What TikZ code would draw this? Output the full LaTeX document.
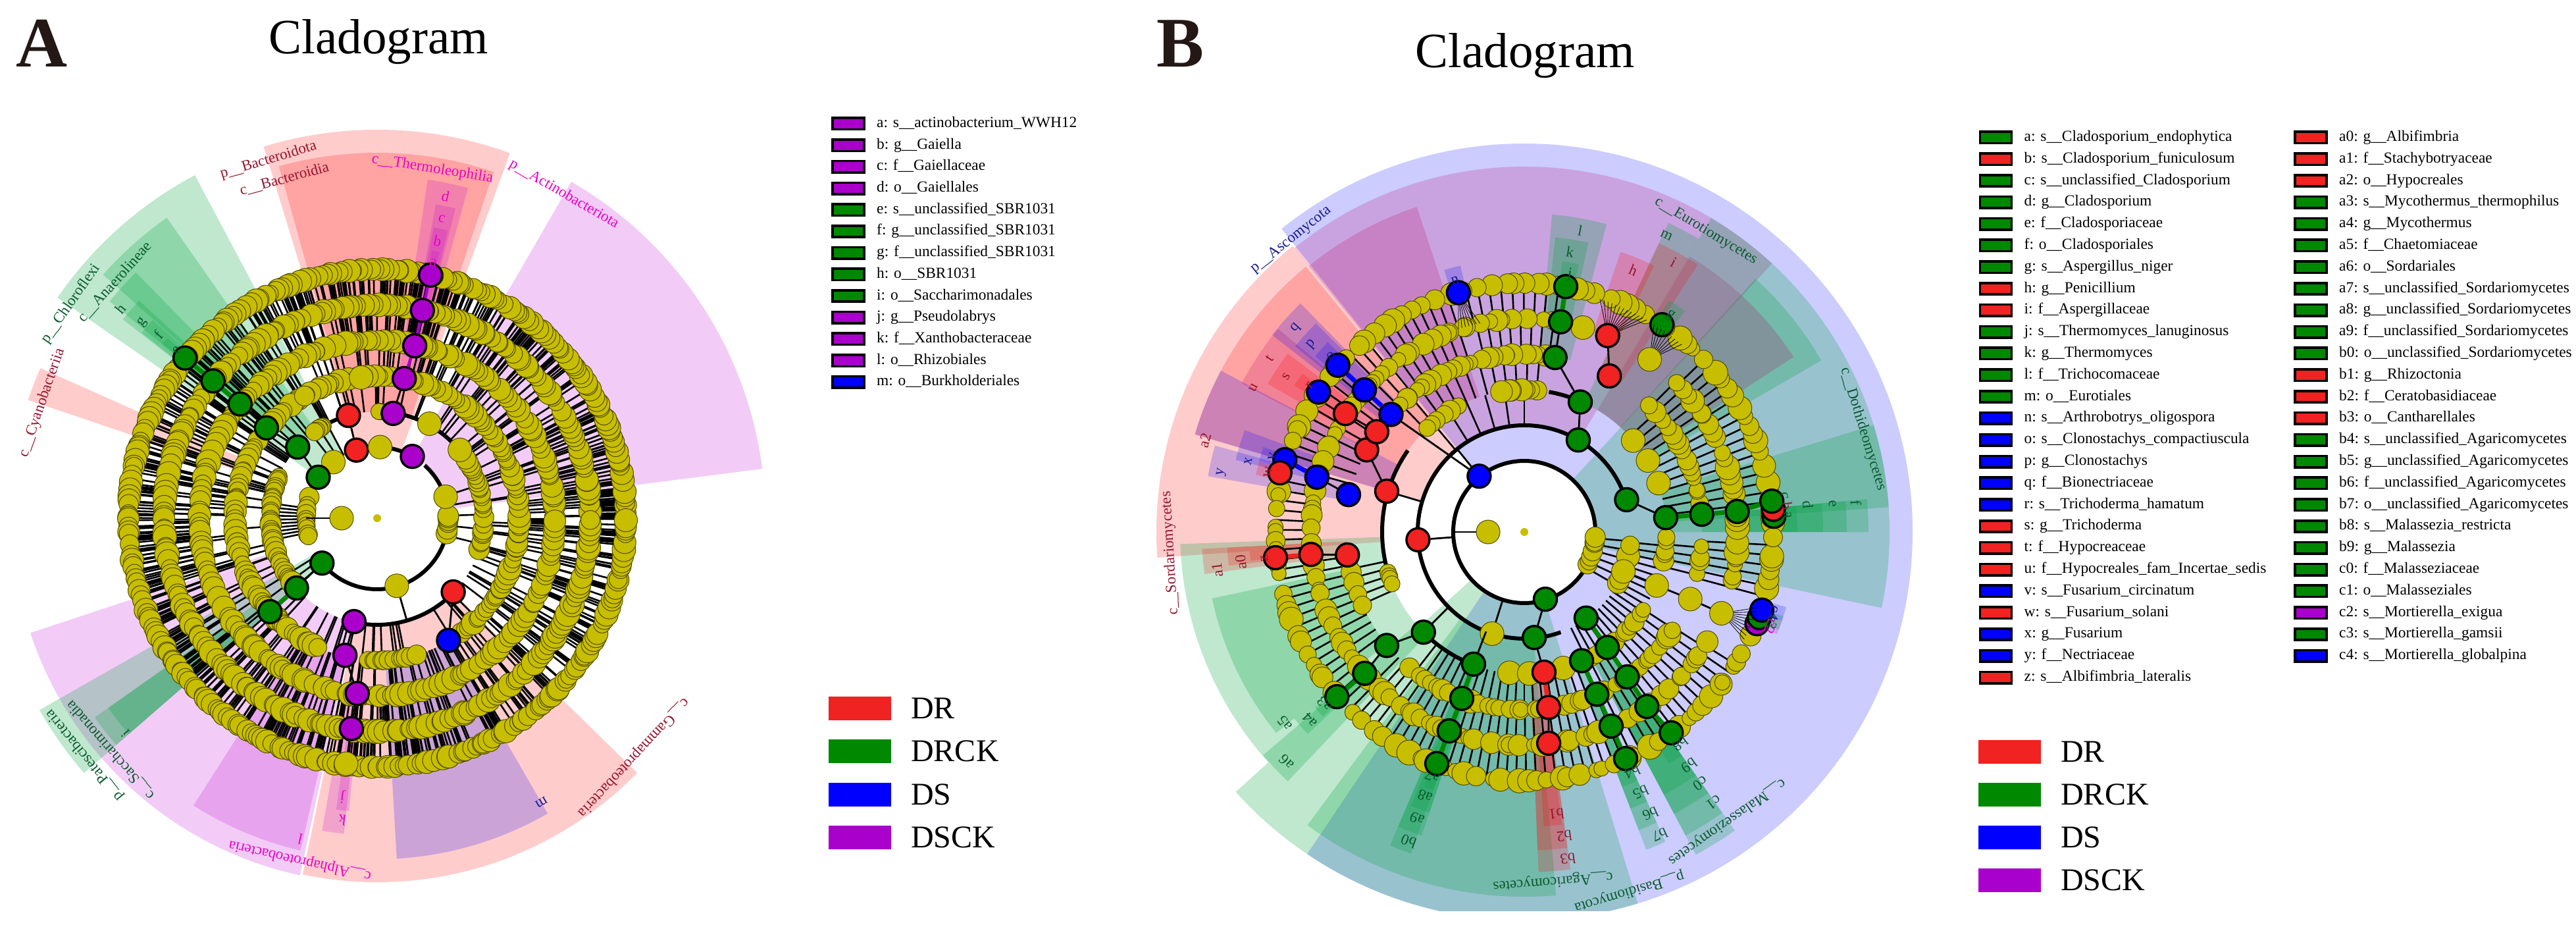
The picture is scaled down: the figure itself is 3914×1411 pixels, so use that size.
\documentclass[tikz,border=0pt]{standalone}
\usepackage{fontspec}
\setmainfont{Liberation Serif}
\usetikzlibrary{
    calc,
    positioning
}
\definecolor{cladered}{RGB}{255,0,0}
\definecolor{cladeblue}{RGB}{0,0,255}
\definecolor{cladeviolet}{RGB}{192,0,208}
\definecolor{cladegreen}{RGB}{0,163,63}
\definecolor{cladepink}{RGB}{192,0,96}
\definecolor{nodered}{RGB}{240,34,34}
\definecolor{nodegreen}{RGB}{0,136,0}
\definecolor{nodeblue}{RGB}{0,0,255}
\definecolor{nodeviolet}{RGB}{170,0,204}
\definecolor{nodeyellow}{RGB}{200,190,0}
\definecolor{dotedge}{RGB}{80,74,0}
\definecolor{txtred}{RGB}{150,20,45}
\definecolor{txtmag}{RGB}{232,0,200}
\definecolor{txtgreen}{RGB}{10,90,45}
\definecolor{txtblue}{RGB}{25,25,145}
\definecolor{inkletter}{RGB}{35,24,21}
\tikzset{
    rd/.style={fill=cladered,fill opacity=.2},
    bl/.style={fill=cladeblue,fill opacity=.2},
    vt/.style={fill=cladeviolet,fill opacity=.2},
    gn/.style={fill=cladegreen,fill opacity=.25},
    pk/.style={fill=cladepink,fill opacity=.2},
    ydot/.style={fill=nodeyellow,draw=dotedge,line width=.5pt},
    spoke/.style={black,line width=1.3pt},
    fanline/.style={black,line width=.4pt},
    thickarc/.style={black,line width=3pt},
    link/.style={black,line width=1.4pt},
    greenlink/.style={nodegreen,line width=3.5pt},
    redlink/.style={nodered,line width=3.5pt},
    bluelink/.style={nodeblue,line width=3.5pt},
    violetlink/.style={nodeviolet,line width=3.5pt},
    marker/.style={circle,draw=black,line width=1.7pt,minimum size=17.5pt,inner sep=0pt},
    drnode/.style={marker,fill=nodered},
    drcknode/.style={marker,fill=nodegreen},
    dsnode/.style={marker,fill=nodeblue},
    dscknode/.style={marker,fill=nodeviolet},
    nsnode/.style={circle,draw=dotedge,line width=.5pt,fill=nodeyellow,minimum size=18pt,inner sep=0pt},
    cladelabel/.style={inner sep=0pt,font=\fontsize{11.5}{13}\selectfont},
    swatch/.style={draw=black,line width=1.8pt,minimum width=24pt,minimum height=8.7pt,inner sep=0pt},
    legtext/.style={inner sep=0pt,text height=8pt,text depth=2.5pt,font=\fontsize{11.7}{13}\selectfont},
    keybox/.style={minimum width=47.5pt,minimum height=18pt,inner sep=0pt},
    keytext/.style={inner sep=0pt,font=\fontsize{24}{26}\selectfont},
    cladotitle/.style={inner sep=0pt,anchor=base west,font=\fontsize{37.5}{40}\selectfont},
    panelletter/.style={inner sep=0pt,anchor=base west,text=inkletter,font=\fontsize{54}{56}\selectfont\bfseries}
}
\newcommand{\clade}[5]{%
    \fill[#1] (#2:#4) arc[start angle=#2,end angle=#3,radius=#4]
        -- (#3:#5) arc[start angle=#3,end angle=#2,radius=#5] -- cycle;}
\newcommand{\ringdots}[6]{%
    \foreach \k in {1,...,#4}{
        \pgfmathsetmacro\ang{#2+(#3-#2)/#4*(\k-0.5+1.2*(rnd-0.5))}
        \pgfmathsetmacro\sz{#5+rnd*(#6-#5)}
        \draw[ydot] (\ang:#1) circle[radius=\sz];
    }}
\newcommand{\spokes}[5]{%
    \pgfmathtruncatemacro\nn{(#4-#3)/#5}
    \foreach \k in {0,...,\nn}{
        \pgfmathsetmacro\ang{#3+#5*\k}
        \draw[spoke] (\ang:#1) -- (\ang:#2);
    }}
\newcommand{\randspokes}[3]{%
    \foreach \k in {1,...,#3}{
        \pgfmathsetmacro\ang{rnd*360}
        \draw[spoke] (\ang:#1) -- (\ang:#2);
    }}
\begin{document}
\begin{tikzpicture}[x=.5pt,y=.5pt]
\useasboundingbox (0,0) rectangle (3914,-1411);
\pgfmathsetseed{11}
\node[panelletter] (letterA) at (24,-102) {A};
\node[cladotitle] (titleA) at (408,-82) {Cladogram};
\node[panelletter] (letterB) at (1757,-102) {B};
\node[cladotitle] (titleB) at (2150,-103) {Cladogram};

% panel A
\begin{scope}[shift={(573,-787)}]
\foreach \st/\a/\b/\ri/\ro in {
    rd/70/107/108/590, rd/71.4/105.6/162/555, vt/74.6/81.5/216/520, vt/75.8/79.4/270/485,
    vt/76.2/79/324/450, vt/76.8/78.4/378/415, vt/7.3/60/108/590,
    gn/118/145.4/108/590, gn/125/138.4/162/557, gn/134.5/141/216/523, gn/137.6/142/270/490,
    gn/138.6/141.8/324/455, gn/139.4/141/378/420, rd/156/161.3/216/560,
    vt/198.3/257.8/162/555, gn/209.6/221/108/590, gn/215.2/221/216/525, gn/215.2/221/270/500,
    vt/237.4/257/216/518, rd/258.2/315.6/162/553, vt/260/264/270/482, vt/262/264.5/324/447,
    bl/273.3/300/216/518}
    {\clade{\st}{\a}{\b}{\ri}{\ro}}
\randspokes{324}{378}{680}
\randspokes{270}{324}{480}
\randspokes{216}{270}{240}
\randspokes{162}{216}{110}
\spokes{108}{162}{172}{192}{2.2}
\spokes{108}{162}{-14}{18}{8}
\spokes{108}{162}{118}{128}{5}
\spokes{108}{162}{212}{222}{4}
\foreach \a/\b in {219/286, 286/345, 27/48, 62/85, 87.6/107}
    {\draw[thickarc] (\a:108) arc[start angle=\a,end angle=\b,radius=108];}
\foreach \a/\b in {257/316, 61/81, 43/55, 107/120}
    {\draw[thickarc] (\a:162) arc[start angle=\a,end angle=\b,radius=162];}
\ringdots{378}{0}{360}{300}{13}{18}
\ringdots{324}{0}{360}{240}{13}{19}
\ringdots{270}{0}{360}{180}{13}{19}
\ringdots{216}{122}{247}{70}{12}{18}
\ringdots{216}{265}{287}{12}{13}{15}
\ringdots{216}{305}{482}{90}{12}{18}
\ringdots{162}{155}{222}{34}{12}{17}
\ringdots{162}{120}{126}{6}{12}{14}
\ringdots{162}{343}{395}{24}{12}{16}
\ringdots{162}{86}{90}{4}{11}{13}
\ringdots{108}{160}{197}{12}{12}{15}
\ringdots{108}{-14}{4}{7}{14}{16}
\foreach \nam/\ang/\rad/\sty in {
    ar1/105.6/162/drnode, ar2/106.9/108/drnode, ar3/315.9/161/drnode,
    ay1/87.6/108/nsnode, ay2/286.2/107/nsnode, ay3/262.8/376/nsnode, ay4/180/54/nsnode,
    ay5/96.5/215/nsnode, ay6/61/164/nsnode, ay7/39.5/163/nsnode, ay8/17.4/109/nsnode, ay9/128/108/nsnode,
    ap1/60.3/108/dscknode, ap2/81.3/161/dscknode, ap3/79/216/dscknode, ap4/77.7/268/dscknode,
    ap5/77.7/323/dscknode, ap6/77.6/378/dscknode, ap7/257.4/161/dscknode, ap8/256.8/214/dscknode,
    ap9/263.5/268/dscknode, ap10/263/322/dscknode,
    ag1/140.2/380/drcknode, ag2/140.1/325/drcknode, ag3/140.2/271/drcknode, ag4/140.8/217/drcknode,
    ag5/138.2/162/drcknode, ag6/145.2/109/drcknode, ag7/219.2/108/drcknode, ag8/220.9/162/drcknode,
    ag9/221.1/216/drcknode, ab1/300.3/215/dsnode}
    {\node[\sty] (\nam) at (\ang:\rad) {};}
\node[circle,fill=nodeyellow,minimum size=6pt,inner sep=0pt] (arootA) at (0,0) {};
\draw[greenlink] (ag1) -- (ag2);
\draw[greenlink] (ag2) -- (ag3);
\draw[greenlink] (ag8) -- (ag9);
\draw[violetlink,line width=2.2pt] (ap6) -- (ap5);
\draw[violetlink,line width=2.2pt] (ap5) -- (ap4);
\draw[violetlink,line width=2.2pt] (ap4) -- (ap3);
\draw[link] (ar1) -- (ar2);
\draw[link] (ap2) -- (ap3);
\draw[link] (ag3) -- (ag4);
\draw[link] (ag4) -- (ag5);
\draw[link] (ag5) -- (ag6);
\draw[link] (ag7) -- (ag8);
\draw[link] (ap7) -- (ap8);
\draw[link] (ap8) -- (ap9);
\draw[link] (ap9) -- (ap10);
\draw[link] (ap10) -- (ay3);
\draw[link] (ar3) -- (ab1);
\draw[link] (ay2) -- (286.2:162);
\draw[link] (ay4) -- (180:108);
\foreach \nam/\ang/\rad/\col/\txt in {
    la1/106.9/568/txtred/p\_\_Bacteroidota, la2/105.3/534/txtred/c\_\_Bacteroidia,
    la3/81/537/txtmag/c\_\_Thermoleophilia, la4/60/568/txtmag/p\_\_Actinobacteriota,
    la5/145/568/txtgreen/p\_\_Chloroflexi, la6/138/536/txtgreen/c\_\_Anaerolineae,
    la7/161/538/txtred/c\_\_Cyanobacteriia, la8/219/572/txtgreen/p\_\_Patescibacteria,
    la9/221/537/txtgreen/c\_\_Saccharimonadia, la10/257.3/533/txtmag/c\_\_Alphaproteobacteria,
    la11/317/533/txtred/c\_\_Gammaproteobacteria,
    ld/78/500/txtmag/d, lc/77.8/465/txtmag/c, lb/77.7/431/txtmag/b, la/77.6/397/txtmag/a,
    lh/140.8/503/txtgreen/h, lg/140.2/464/txtgreen/g, lf/140/434/txtgreen/f, le/140/397/txtgreen/e,
    li/220.6/503/txtgreen/i, ll/256.5/501/txtmag/l, lk/263.4/462/txtmag/k, lj/262.9/426/txtmag/j,
    lm/300/499/txtblue/m}
    {\node[cladelabel,text=\col,rotate=\ang-90] (\nam) at (\ang:\rad) {\txt};}
\end{scope}

\foreach \col/\txt [count=\i from 0] in {
    nodeviolet/a: s\_\_actinobacterium\_WWH12, nodeviolet/b: g\_\_Gaiella, nodeviolet/c: f\_\_Gaiellaceae,
    nodeviolet/d: o\_\_Gaiellales, nodegreen/e: s\_\_unclassified\_SBR1031, nodegreen/f: g\_\_unclassified\_SBR1031,
    nodegreen/g: f\_\_unclassified\_SBR1031, nodegreen/h: o\_\_SBR1031, nodegreen/i: o\_\_Saccharimonadales,
    nodeviolet/j: g\_\_Pseudolabrys, nodeviolet/k: f\_\_Xanthobacteraceae, nodeviolet/l: o\_\_Rhizobiales,
    nodeblue/m: o\_\_Burkholderiales}
{
    \node[swatch,fill=\col] (swA\i) at (1289,-188-32.7*\i) {};
    \node[legtext,right=8.5pt of swA\i] (txA\i) {\txt};
}
\foreach \col/\txt [count=\i from 0] in {nodered/DR, nodegreen/DRCK, nodeblue/DS, nodeviolet/DSCK}
{
    \node[keybox,fill=\col] (keyA\i) at (1306,-1076-65.3*\i) {};
    \node[keytext,right=15pt of keyA\i] (keytxA\i) {\txt};
}

% panel B
\begin{scope}
\clip (1500,0) rectangle (3000,-1383);
\begin{scope}[shift={(2316,-808)}]
\foreach \st/\a/\b/\ri/\ro in {
    bl/-124/128.7/108/590, gn/222/287/108/590, gn/233.5/275/162/554,
    rd/129/163/162/559, rd/163/184/216/559, gn/182/222/216/523,
    rd/129.5/163.5/216/522, bl/152/163.5/216/522, pk/140.5/152.3/270/485,
    pk/108.3/129/216/520, pk/59.2/129/162/555,
    gn/-12/47.3/108/555, gn/3.9/17/216/555, gn/30/47.6/216/521,
    pk/33/59/216/488, pk/47.3/59.2/216/555, gn/47.3/59.2/216/555,
    gn/59.2/65/216/518, rd/57/65/270/484, rd/64/71/324/450,
    gn/75/85/270/484, gn/77.5/84/324/450, gn/78.5/82/378/415,
    bl/134.4/142/270/486, bl/135/141/324/448, bl/136/140/378/415,
    rd/143/150/324/450, rd/144.5/147.5/378/414,
    bl/164.4/170/270/488, bl/160/166/324/452, bl/162/165/378/417, rd/165/168/378/417,
    rd/183/187.5/270/490, rd/183/186.5/324/452, rd/184/186/378/418,
    gn/192/219/270/485, gn/220.5/226.5/216/522, gn/219/223/324/450, gn/220/222.5/378/415,
    gn/246.8/250.6/216/518, gn/246.8/251.3/270/487, gn/247.5/251.3/324/450, gn/248.5/250.5/378/415,
    rd/272.4/277.8/216/517, rd/272.4/277.8/270/484, rd/273.8/277.3/324/448,
    gn/-69/-65.5/216/517, gn/-69/-65.5/270/485, gn/-69/-65.5/324/450, gn/-69/-65.5/378/415,
    gn/-62/-54.8/216/555, gn/-62/-54.8/216/522, gn/-62/-54.8/270/485, gn/-62/-54.8/324/452, gn/-58/-54.8/378/415,
    gn/0/5.5/216/523, gn/0/5.5/270/490, gn/0/5.5/324/454, gn/0/5.5/378/415,
    gn/54/58/378/415, bl/103.5/107/378/416,
    vt/-22/-19/378/414, gn/-21/-18/378/414, bl/-19/-16/378/414}
    {\clade{\st}{\a}{\b}{\ri}{\ro}}
\end{scope}
\end{scope}

\begin{scope}[shift={(2316,-808)}]
\spokes{324}{378}{7}{45}{2.3}
\spokes{324}{378}{-15}{-3}{2.4}
\spokes{324}{378}{82}{104}{2.7}
\spokes{324}{378}{108}{136}{2.4}
\spokes{324}{378}{140}{164}{2.4}
\spokes{324}{378}{168}{248}{2.3}
\spokes{324}{378}{252}{330}{2.3}
\spokes{270}{324}{7}{45}{2.7}
\spokes{270}{324}{-15}{-3}{2.4}
\spokes{270}{324}{82}{105}{3}
\spokes{270}{324}{108}{136}{3}
\spokes{270}{324}{140}{165}{3.5}
\spokes{270}{324}{188}{218}{2.8}
\spokes{270}{324}{225}{248}{2.6}
\spokes{270}{324}{252}{329}{2.6}
\spokes{216}{270}{7}{44}{3.2}
\spokes{216}{270}{-14}{-3}{3}
\spokes{216}{270}{85}{105}{4}
\spokes{216}{270}{110}{135}{4}
\spokes{216}{270}{192}{205}{3}
\spokes{216}{270}{232}{248}{3}
\spokes{216}{270}{252}{328}{3}
\spokes{162}{216}{-28}{-3}{3.2}
\spokes{162}{216}{296}{329}{3}
\spokes{162}{216}{90}{130}{8}
\spokes{108}{162}{-30}{-3}{5}
\draw[thickarc] (0,0) circle[radius=108];
\foreach \a/\b in {59.6/252.4, 252.4/275.4, 17.5/59.6, 275.4/290}
    {\draw[thickarc] (\a:162) arc[start angle=\a,end angle=\b,radius=162];}
\foreach \a/\b in {145/198, 225/249, 66/80}
    {\draw[thickarc] (\a:216) arc[start angle=\a,end angle=\b,radius=216];}
\ringdots{378}{0}{360}{135}{11}{19}
\ringdots{324}{-15}{45}{26}{11}{19}
\ringdots{324}{80}{146}{28}{11}{17}
\ringdots{324}{146}{221}{28}{11}{17}
\ringdots{324}{221}{329}{46}{11}{18}
\ringdots{270}{-15}{-3}{4}{11}{15}
\ringdots{270}{6}{46}{16}{11}{17}
\ringdots{270}{80}{138}{25}{10}{17}
\ringdots{270}{190}{206}{6}{11}{16}
\ringdots{270}{230}{249}{8}{12}{16}
\ringdots{270}{249}{329}{32}{11}{18}
\ringdots{216}{-13}{0}{5}{12}{17}
\ringdots{216}{84}{100}{7}{13}{17}
\ringdots{216}{115}{135}{7}{12}{16}
\ringdots{216}{195}{203}{4}{12}{14}
\ringdots{216}{295}{329}{12}{11}{16}
\ringdots{162}{-31}{-5}{6}{14}{18}
\ringdots{108}{-30}{0}{7}{13}{16}
\foreach \nam/\ang/\rad/\sty in {
    by1/252.4/162/nsnode, by2/54/324/nsnode, by3/-22.4/324/nsnode, by4/-22/272/nsnode,
    by5/-22/217/nsnode, by6/-21.7/162/nsnode, by7/180/55/nsnode, by8/74/323/nsnode,
    by9/20/217/nsnode, by10/30/217/nsnode, by11/40/216/nsnode, by12/264/215/nsnode,
    by13/272/215/nsnode, by14/286/215/nsnode,
    bb1/129/109/dsnode, bb2/138.6/270/dsnode, bb3/138.4/325/dsnode, bb4/138.2/380/dsnode,
    bb5/145.8/378/dsnode, bb6/163.2/380/dsnode, br5/166.4/382/drnode, bb7/165.2/326/dsnode,
    bb8/168/273/dsnode, bb9/105.4/377/dsnode,
    br1/163.5/218/drnode, br2/152.5/270/drnode, br3/145.8/271/drnode, br4/146.5/326/drnode,
    br6/67/324/drnode, br7/61.4/270/drnode,
    br9/184.2/162/drnode, br10/185.9/380/drnode, br11/186/326/drnode, br12/187.4/271/drnode,
    br13/278/215/drnode, br14/277.9/269/drnode, br15/276.6/323/drnode,
    bg1/80.4/378/drcknode, bg2/80.2/324/drcknode, bg3/80/269/drcknode, bg4/66.7/215/drcknode,
    bg5/59.6/162/drcknode, bg6/56.4/378/drcknode, bg7/17.5/163/drcknode, bg8/5.8/216/drcknode,
    bg9/5.7/271/drcknode, bg10/5.5/325/drcknode, bg12/3.6/380/drcknode, br8/5.2/380/drnode, bg11/7.1/379/drcknode,
    bg13/224.8/216/drcknode, bg14/219.5/271/drcknode, bg15/221.5/324/drcknode, bg16/221.3/379/drcknode,
    bg17/287.4/107/drcknode, bg18/275.4/161/drcknode, bg19/249/215/drcknode, bg20/249.4/270/drcknode,
    bg21/249.3/323/drcknode, bg22/249.3/376/drcknode,
    bg23/-66/214/drcknode, bg25/-65.9/270/drcknode, bg26/-65.9/323/drcknode, bg27/-65.9/377/drcknode,
    bg24/-54.3/161/drcknode, bg28/-54.3/216/drcknode, bg29/-54.6/270/drcknode, bg30/-54.9/324/drcknode,
    bg31/-53.8/378/drcknode,
    bp1/-21.5/380/dscknode, bg32/-20/380/drcknode, bb10/-18.2/380/dsnode}
    {\node[\sty] (\nam) at (\ang:\rad) {};}
\node[circle,fill=nodeyellow,minimum size=6pt,inner sep=0pt] (arootB) at (0,0) {};
\foreach \a/\b in {bg8/bg9, bg9/bg10, bg10/bg11, bg24/bg28, bg28/bg29, bg29/bg30, bg30/bg31,
    bg23/bg25, bg25/bg26, bg26/bg27, bg19/bg20, bg20/bg21, bg21/bg22, bg15/bg16, bg1/bg2}
    {\draw[greenlink] (\a) -- (\b);}
\foreach \a/\b in {br10/br11, br13/br14}
    {\draw[redlink] (\a) -- (\b);}
\foreach \a/\b in {bb4/bb3, bb3/bb2, bb6/bb7}
    {\draw[bluelink] (\a) -- (\b);}
\foreach \a/\b in {br3/br4, br2/br1, br11/br12, bb7/bb8, bg14/bg15, bg13/bg14, bg18/br13, br14/br15,
    bg2/bg3, bg3/bg4, br6/br7, bg7/bg8, bg18/bg17, bb1/bb2, bg5/bg4, by3/by4, by4/by5, by5/by6}
    {\draw[link] (\a) -- (\b);}
\draw[link] (by7) -- (180:108);
\draw[link] (bb1) -- (129:162);
\draw[link] (br1) -- (163.5:162);
\draw[link] (br9) -- (184.2:108);
\draw[link] (bg13) -- (224.8:162);
\draw[link] (by1) -- (252.4:108);
\draw[link] (bg19) -- (249:162);
\foreach \a in {-26,-25,...,-18} {\draw[fanline] (by3) -- (\a:372);}
\foreach \a in {50,51,...,58} {\draw[fanline] (by2) -- (\a:372);}
\foreach \a in {60,61,...,72} {\draw[fanline] (br6) -- (\a:372);}
\foreach \a in {102,103,...,108} {\draw[fanline] (bb9) -- (\a:324);}
\foreach \nam/\ang/\rad/\col/\txt in {
    lb1/128.6/568/txtblue/p\_\_Ascomycota, lb2/183.4/539/txtred/c\_\_Sordariomycetes,
    lb3/274.7/532/txtgreen/c\_\_Agaricomycetes, lb4/286.3/569/txtgreen/p\_\_Basidiomycota,
    lb5/305/537/txtgreen/c\_\_Malasseziomycetes, lb6/16.9/538/txtgreen/c\_\_Dothideomycetes,
    lb7/58.9/534/txtgreen/c\_\_Eurotiomycetes,
    ba/3.7/401/txtgreen/a, bb/5.7/401/txtred/b, bc/8/399/txtgreen/c, bd/5.5/433/txtgreen/d,
    be/5.2/470/txtgreen/e, bf/5/506/txtgreen/f, bg/56/397/txtgreen/g, bh/67.4/431/txtred/h,
    bi/61/468/txtred/i, bj/80/397/txtgreen/j, bk/80.7/431/txtgreen/k, bl/79.5/466/txtgreen/l,
    bm/64.4/500/txtgreen/m, bn/105.4/397/txtblue/n, bo/137.6/397/txtblue/o, bp/138.6/431/txtblue/p,
    bq/138.2/465/txtblue/q, br/145.6/395/txtred/r, bs/146.9/432/txtred/s, bt/145.7/468/txtred/t,
    bu/152/466/txtred/u, bv/163.3/400/txtblue/v, bw/166.9/400/txtred/w, bx/165.7/433/txtblue/x,
    by/168.8/469/txtblue/y, bz/185.8/397/txtred/z, ba0/186/433/txtred/a0, ba1/187.1/470/txtred/a1,
    ba2/164/505/txtred/a2, ba3/220.7/400/txtgreen/a3, ba4/221.3/434/txtgreen/a4, ba5/218.6/466/txtgreen/a5,
    ba6/224/503/txtgreen/a6, ba7/249.4/397/txtgreen/a7, ba8/249.4/429/txtgreen/a8, ba9/249.5/465/txtgreen/a9,
    bb0/249.5/502/txtgreen/b0, bb1l/276.5/431/txtred/b1, bb2l/277.5/466/txtred/b2, bb3l/277.6/501/txtred/b3,
    bb4l/-65.8/400/txtgreen/b4, bb5l/-65.9/433/txtgreen/b5, bb6l/-65.9/469/txtgreen/b6, bb7l/-65.9/504/txtgreen/b7,
    bb8l/-53.6/400/txtgreen/b8, bb9l/-54.8/434/txtgreen/b9, bc0/-55/466/txtgreen/c0, bc1/-55/502/txtgreen/c1,
    bc2/-21/401/txtmag/c2, bc3/-20/401/txtgreen/c3, bc4/-18/400/txtblue/c4}
    {\node[cladelabel,text=\col,rotate=\ang-90] (\nam) at (\ang:\rad) {\txt};}
\end{scope}

\foreach \col/\txt [count=\i from 0] in {
    nodegreen/a: s\_\_Cladosporium\_endophytica, nodered/b: s\_\_Cladosporium\_funiculosum,
    nodegreen/c: s\_\_unclassified\_Cladosporium, nodegreen/d: g\_\_Cladosporium, nodegreen/e: f\_\_Cladosporiaceae,
    nodegreen/f: o\_\_Cladosporiales, nodegreen/g: s\_\_Aspergillus\_niger, nodered/h: g\_\_Penicillium,
    nodered/i: f\_\_Aspergillaceae, nodegreen/j: s\_\_Thermomyces\_lanuginosus, nodegreen/k: g\_\_Thermomyces,
    nodegreen/l: f\_\_Trichocomaceae, nodegreen/m: o\_\_Eurotiales, nodeblue/n: s\_\_Arthrobotrys\_oligospora,
    nodeblue/o: s\_\_Clonostachys\_compactiuscula, nodeblue/p: g\_\_Clonostachys, nodeblue/q: f\_\_Bionectriaceae,
    nodeblue/r: s\_\_Trichoderma\_hamatum, nodered/s: g\_\_Trichoderma, nodered/t: f\_\_Hypocreaceae,
    nodered/u: f\_\_Hypocreales\_fam\_Incertae\_sedis, nodeblue/v: s\_\_Fusarium\_circinatum,
    nodered/w: s\_\_Fusarium\_solani, nodeblue/x: g\_\_Fusarium, nodeblue/y: f\_\_Nectriaceae,
    nodered/z: s\_\_Albifimbria\_lateralis}
{
    \node[swatch,fill=\col] (swB\i) at (3032.5,-209-32.8*\i) {};
    \node[legtext,right=8.5pt of swB\i] (txB\i) {\txt};
}
\foreach \col/\txt [count=\i from 0] in {
    nodered/a0: g\_\_Albifimbria, nodered/a1: f\_\_Stachybotryaceae, nodered/a2: o\_\_Hypocreales,
    nodegreen/a3: s\_\_Mycothermus\_thermophilus, nodegreen/a4: g\_\_Mycothermus, nodegreen/a5: f\_\_Chaetomiaceae,
    nodegreen/a6: o\_\_Sordariales, nodegreen/a7: s\_\_unclassified\_Sordariomycetes,
    nodegreen/a8: g\_\_unclassified\_Sordariomycetes, nodegreen/a9: f\_\_unclassified\_Sordariomycetes,
    nodegreen/b0: o\_\_unclassified\_Sordariomycetes, nodered/b1: g\_\_Rhizoctonia, nodered/b2: f\_\_Ceratobasidiaceae,
    nodered/b3: o\_\_Cantharellales, nodegreen/b4: s\_\_unclassified\_Agaricomycetes,
    nodegreen/b5: g\_\_unclassified\_Agaricomycetes, nodegreen/b6: f\_\_unclassified\_Agaricomycetes,
    nodegreen/b7: o\_\_unclassified\_Agaricomycetes, nodegreen/b8: s\_\_Malassezia\_restricta,
    nodegreen/b9: g\_\_Malassezia, nodegreen/c0: f\_\_Malasseziaceae, nodegreen/c1: o\_\_Malasseziales,
    nodeviolet/c2: s\_\_Mortierella\_exigua, nodegreen/c3: s\_\_Mortierella\_gamsii, nodeblue/c4: s\_\_Mortierella\_globalpina}
{
    \node[swatch,fill=\col] (swC\i) at (3511,-209-32.8*\i) {};
    \node[legtext,right=8.5pt of swC\i] (txC\i) {\txt};
}
\foreach \col/\txt [count=\i from 0] in {nodered/DR, nodegreen/DRCK, nodeblue/DS, nodeviolet/DSCK}
{
    \node[keybox,fill=\col] (keyB\i) at (3053,-1142-65*\i) {};
    \node[keytext,right=15pt of keyB\i] (keytxB\i) {\txt};
}
\end{tikzpicture}
\end{document}
